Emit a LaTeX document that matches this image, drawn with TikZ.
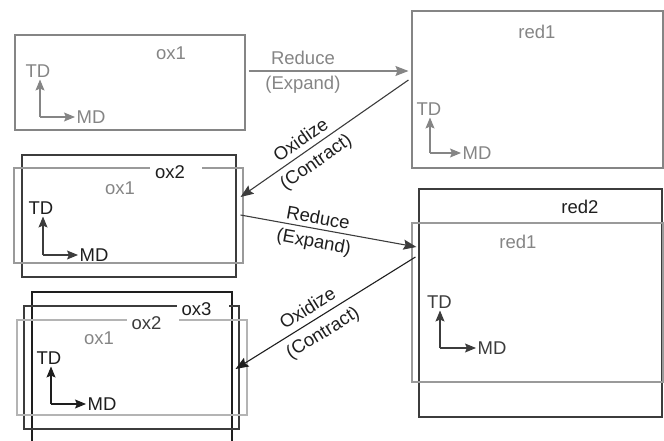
\documentclass[tikz,border=0pt]{standalone}
\usepackage{fontspec}
\setmainfont{Liberation Sans}
\usepackage{xcolor}
\usepackage{tikz}
\usetikzlibrary{arrows.meta,calc}
\definecolor{PaleGray}{HTML}{858585}
\definecolor{SoftGray}{HTML}{9A9A9A}
\definecolor{FadeGray}{HTML}{B4B4B4}
\definecolor{MidGray}{HTML}{3C3C3C}
\definecolor{Ink}{HTML}{1E1E1E}

\begin{document}
\begin{tikzpicture}[
  x=1pt,y=-1pt,
  font=\fontsize{18.5}{21}\selectfont,
  box/.style={draw=#1,line width=1.1pt,inner sep=0pt},
  tag/.style={text=#1,inner sep=1pt},
  gap/.style={fill=white,text=#1,text width=42pt,align=left,inner xsep=5pt,inner ysep=1pt},
  dirtag/.style={text=#1,inner sep=1.5pt},
  arr/.style={-{Stealth[length=13pt,width=10pt,inset=2pt]},line width=1.1pt,draw=#1},
  axis/.style={-{Stealth[length=11pt,width=9pt,inset=2pt]},line width=1.1pt,draw=#1},
  lbl/.style={text=#1,inner sep=1pt,sloped}
]
\clip (0,0) rectangle (664,441);

% top row
\node[box=PaleGray,minimum width=230pt,minimum height=95pt] (ox1a) at (130,82.5) {};
\node[box=PaleGray,minimum width=251pt,minimum height=157pt] (red1a) at (537.5,89.5) {};
\node[tag=PaleGray] (ox1aname) at (171,53) {ox1};
\node[tag=PaleGray] (red1aname) at (537,32) {red1};

% middle row
\node[box=MidGray,minimum width=214pt,minimum height=122pt] (ox2m) at (129,216) {};
\node[box=SoftGray,minimum width=229pt,minimum height=95pt] (ox1m) at (128.5,215.5) {};
\node[gap=Ink] (ox2mname) at (176,172) {ox2};
\node[tag=PaleGray] (ox1mname) at (120,188) {ox1};

\node[box=MidGray,minimum width=243pt,minimum height=228pt] (red2m) at (540.5,303) {};
\node[box=SoftGray,minimum width=251pt,minimum height=159pt] (red1m) at (537.5,302.5) {};
\node[tag=Ink] (red2mname) at (580,207) {red2};
\node[tag=PaleGray] (red1mname) at (518,242) {red1};

% bottom row
\node[box=Ink,minimum width=200pt,minimum height=168pt] (ox3b) at (132,376) {};
\node[box=MidGray,minimum width=215pt,minimum height=123pt] (ox2b) at (131.5,367.5) {};
\node[box=FadeGray,minimum width=230pt,minimum height=95pt] (ox1b) at (132,367.5) {};
\node[gap=Ink] (ox3bname) at (202.5,309) {ox3};
\node[gap=MidGray] (ox2bname) at (152.5,323) {ox2};
\node[tag=PaleGray] (ox1bname) at (99,338) {ox1};

% direction axes
\coordinate (tl) at (40,117);
\node[dirtag=PaleGray,anchor=south] (tdTL) at (38,79.5) {TD};
\node[dirtag=PaleGray,anchor=west] (mdTL) at (75,117) {MD};
\draw[axis=PaleGray] (tl) -- (tl |- tdTL.south);
\draw[axis=PaleGray] (tl) -- (mdTL.west);

\coordinate (tr) at (430,153);
\node[dirtag=PaleGray,anchor=south] (tdTR) at (429,117.5) {TD};
\node[dirtag=PaleGray,anchor=west] (mdTR) at (461,153) {MD};
\draw[axis=PaleGray] (tr) -- (tr |- tdTR.south);
\draw[axis=PaleGray] (tr) -- (mdTR.west);

\coordinate (ml) at (43,255);
\node[dirtag=Ink,anchor=south] (tdML) at (41,216.5) {TD};
\node[dirtag=Ink,anchor=west] (mdML) at (78,255) {MD};
\draw[axis=MidGray] (ml) -- (ml |- tdML.south);
\draw[axis=MidGray] (ml) -- (mdML.west);

\coordinate (mr) at (440,348);
\node[dirtag=MidGray,anchor=south] (tdMR) at (439.5,310.5) {TD};
\node[dirtag=MidGray,anchor=west] (mdMR) at (476,348) {MD};
\draw[axis=MidGray] (mr) -- (mr |- tdMR.south);
\draw[axis=MidGray] (mr) -- (mdMR.west);

\coordinate (bl) at (51,404);
\node[dirtag=Ink,anchor=south] (tdBL) at (49,366.5) {TD};
\node[dirtag=Ink,anchor=west] (mdBL) at (86,404) {MD};
\draw[axis=Ink] (bl) -- (bl |- tdBL.south);
\draw[axis=Ink] (bl) -- (mdBL.west);

% reduce / oxidize steps
\draw[arr=PaleGray] ([xshift=3pt,yshift=11.5pt]ox1a.east) --
  node[lbl=PaleGray,pos=.34,above=4.5pt] {Reduce}
  node[lbl=PaleGray,pos=.34,below=4pt] {(Expand)}
  ([xshift=-3pt,yshift=18.5pt]red1a.west);
\draw[arr=MidGray] ([xshift=-3pt,yshift=9.5pt]red1a.west) --
  node[lbl=Ink,pos=.6,above=4.5pt] {Oxidize}
  node[lbl=Ink,pos=.6,below=5pt] {(Contract)}
  ([xshift=4pt,yshift=19pt]ox2m.east);
\draw[arr=MidGray] ([xshift=4pt,yshift=1pt]ox2m.east) --
  node[lbl=Ink,pos=.43,above=3pt] {Reduce}
  node[lbl=Ink,pos=.43,below=4pt] {(Expand)}
  ([xshift=5pt,yshift=55.5pt]red1m.west);
\draw[arr=Ink] ([xshift=4pt,yshift=45.5pt]red1m.west) --
  node[lbl=Ink,pos=.56,above=5.5pt] {Oxidize}
  node[lbl=Ink,pos=.56,below=6pt] {(Contract)}
  ([xshift=-4pt,yshift=-1.5pt]ox2b.east);
\end{tikzpicture}
\end{document}
